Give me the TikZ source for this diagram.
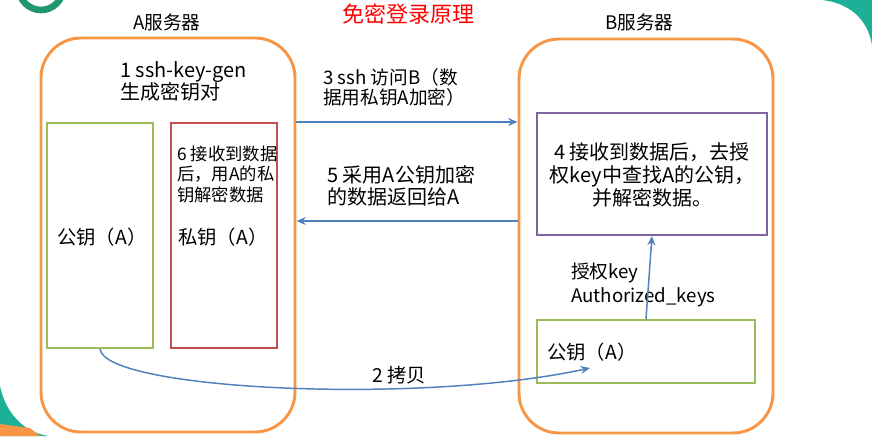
\documentclass[tikz,border=0pt]{standalone}
\usepackage{fontspec}
\setmainfont{Noto Sans CJK SC}
\usetikzlibrary{arrows.meta,fit}

\definecolor{srvorange}{HTML}{F79646}
\definecolor{keygreen}{HTML}{9BBB59}
\definecolor{keyred}{HTML}{C0504D}
\definecolor{keypurple}{HTML}{8064A2}
\definecolor{msgblue}{HTML}{4F81BD}
\definecolor{slideteal}{RGB}{28,176,150}
\definecolor{logogreen}{RGB}{34,150,110}

\tikzset{
    server/.style={
        draw=srvorange,line width=2.2pt,rounded corners=30pt,
        inner sep=0pt
    },
    keybox/.style={draw,line width=1.6pt,inner sep=0pt},
    msg/.style={draw=msgblue,line width=1.1pt,-{Stealth[length=7pt,width=6pt]}},
    lbl/.style={inner sep=0pt,align=left,anchor=west},
    fs/.style 2 args={font=\fontsize{#1}{#2}\selectfont}
}

\begin{document}
\begin{tikzpicture}[x=0.75pt,y=-0.75pt]
        \useasboundingbox (0,0) rectangle (872,436);
        % slide template bits
        \draw[logogreen,line width=5pt] (41,-12) circle (22);
        \fill[slideteal] (822,0) .. controls (850,3) and (868,20) .. (872,45) -- (872,0) -- cycle;
        \fill[slideteal] (0,386) .. controls (6,414) and (24,432) .. (48,436) -- (0,436) -- cycle;
        \fill[srvorange] (0,424) -- (30,428) -- (40,436) -- (0,436) -- cycle;
        % servers
        \node[server,fit={(41,38) (295,432)}] (srvA) {};
        \node[server,fit={(519,39) (773,433)}] (srvB) {};
        \node[keybox,draw=keygreen,fit={(47,123) (153,348)}] (pubA) {};
        \node[keybox,draw=keyred,fit={(171,123) (277,348)}] (privA) {};
        \node[keybox,draw=keypurple,fit={(537,113) (767,235)}] (check) {};
        \node[keybox,draw=keygreen,fit={(537,320) (755,383)}] (pubB) {};
        % titles
        \node[fs={16.5}{18},text=red] (title) at (408,14) {免密登录原理};
        \node[lbl,fs={14}{16}] (nameA) at (133,22) {A服务器};
        \node[lbl,fs={14}{16}] (nameB) at (605,22) {B服务器};
        % texts
        \node[lbl,fs={15}{16.5}] (gen) at (120,81) {1 ssh-key-gen\\生成密钥对};
        \node[lbl,fs={13}{15.4}] (decrypt) at (177,174) {6 接收到数据\\后，用A的私\\钥解密数据};
        \node[lbl,fs={14.5}{16}] (pubAtxt) at (57,237) {公钥（A）};
        \node[lbl,fs={14.5}{16}] (privAtxt) at (178,237) {私钥（A）};
        \node[lbl,fs={14}{15}] (login) at (323,87) {3 ssh 访问B（数\\据用私钥A加密）};
        \node[lbl,fs={15}{16.5}] (reply) at (327,186) {5 采用A公钥加密\\的数据返回给A};
        \node[fs={15}{17},align=center,inner sep=0pt] (checktxt) at (652,175) {4 接收到数据后，去授\\权key中查找A的公钥，\\并解密数据。};
        \node[lbl,fs={14}{18}] (authkeys) at (571,285) {授权key\\Authorized\_keys};
        \node[lbl,fs={14.5}{16}] (pubBtxt) at (547,352) {公钥（A）};
        % messages
        \draw[msg] (srvA.east |- 0,122) -- (srvB.west |- 0,122);
        \draw[msg] (srvB.west |- 0,221) -- (srvA.east |- 0,221);
        \draw[msg] (pubB.north) -- (check.south);
        \coordinate (copyend) at (590,368);
        \draw[msg] (pubA.south) .. controls (105,390) and (420,405) .. (copyend);
        \node[fs={14.5}{16}] (copy) at (399,375) {2 拷贝};
    \end{tikzpicture}
\end{document}
